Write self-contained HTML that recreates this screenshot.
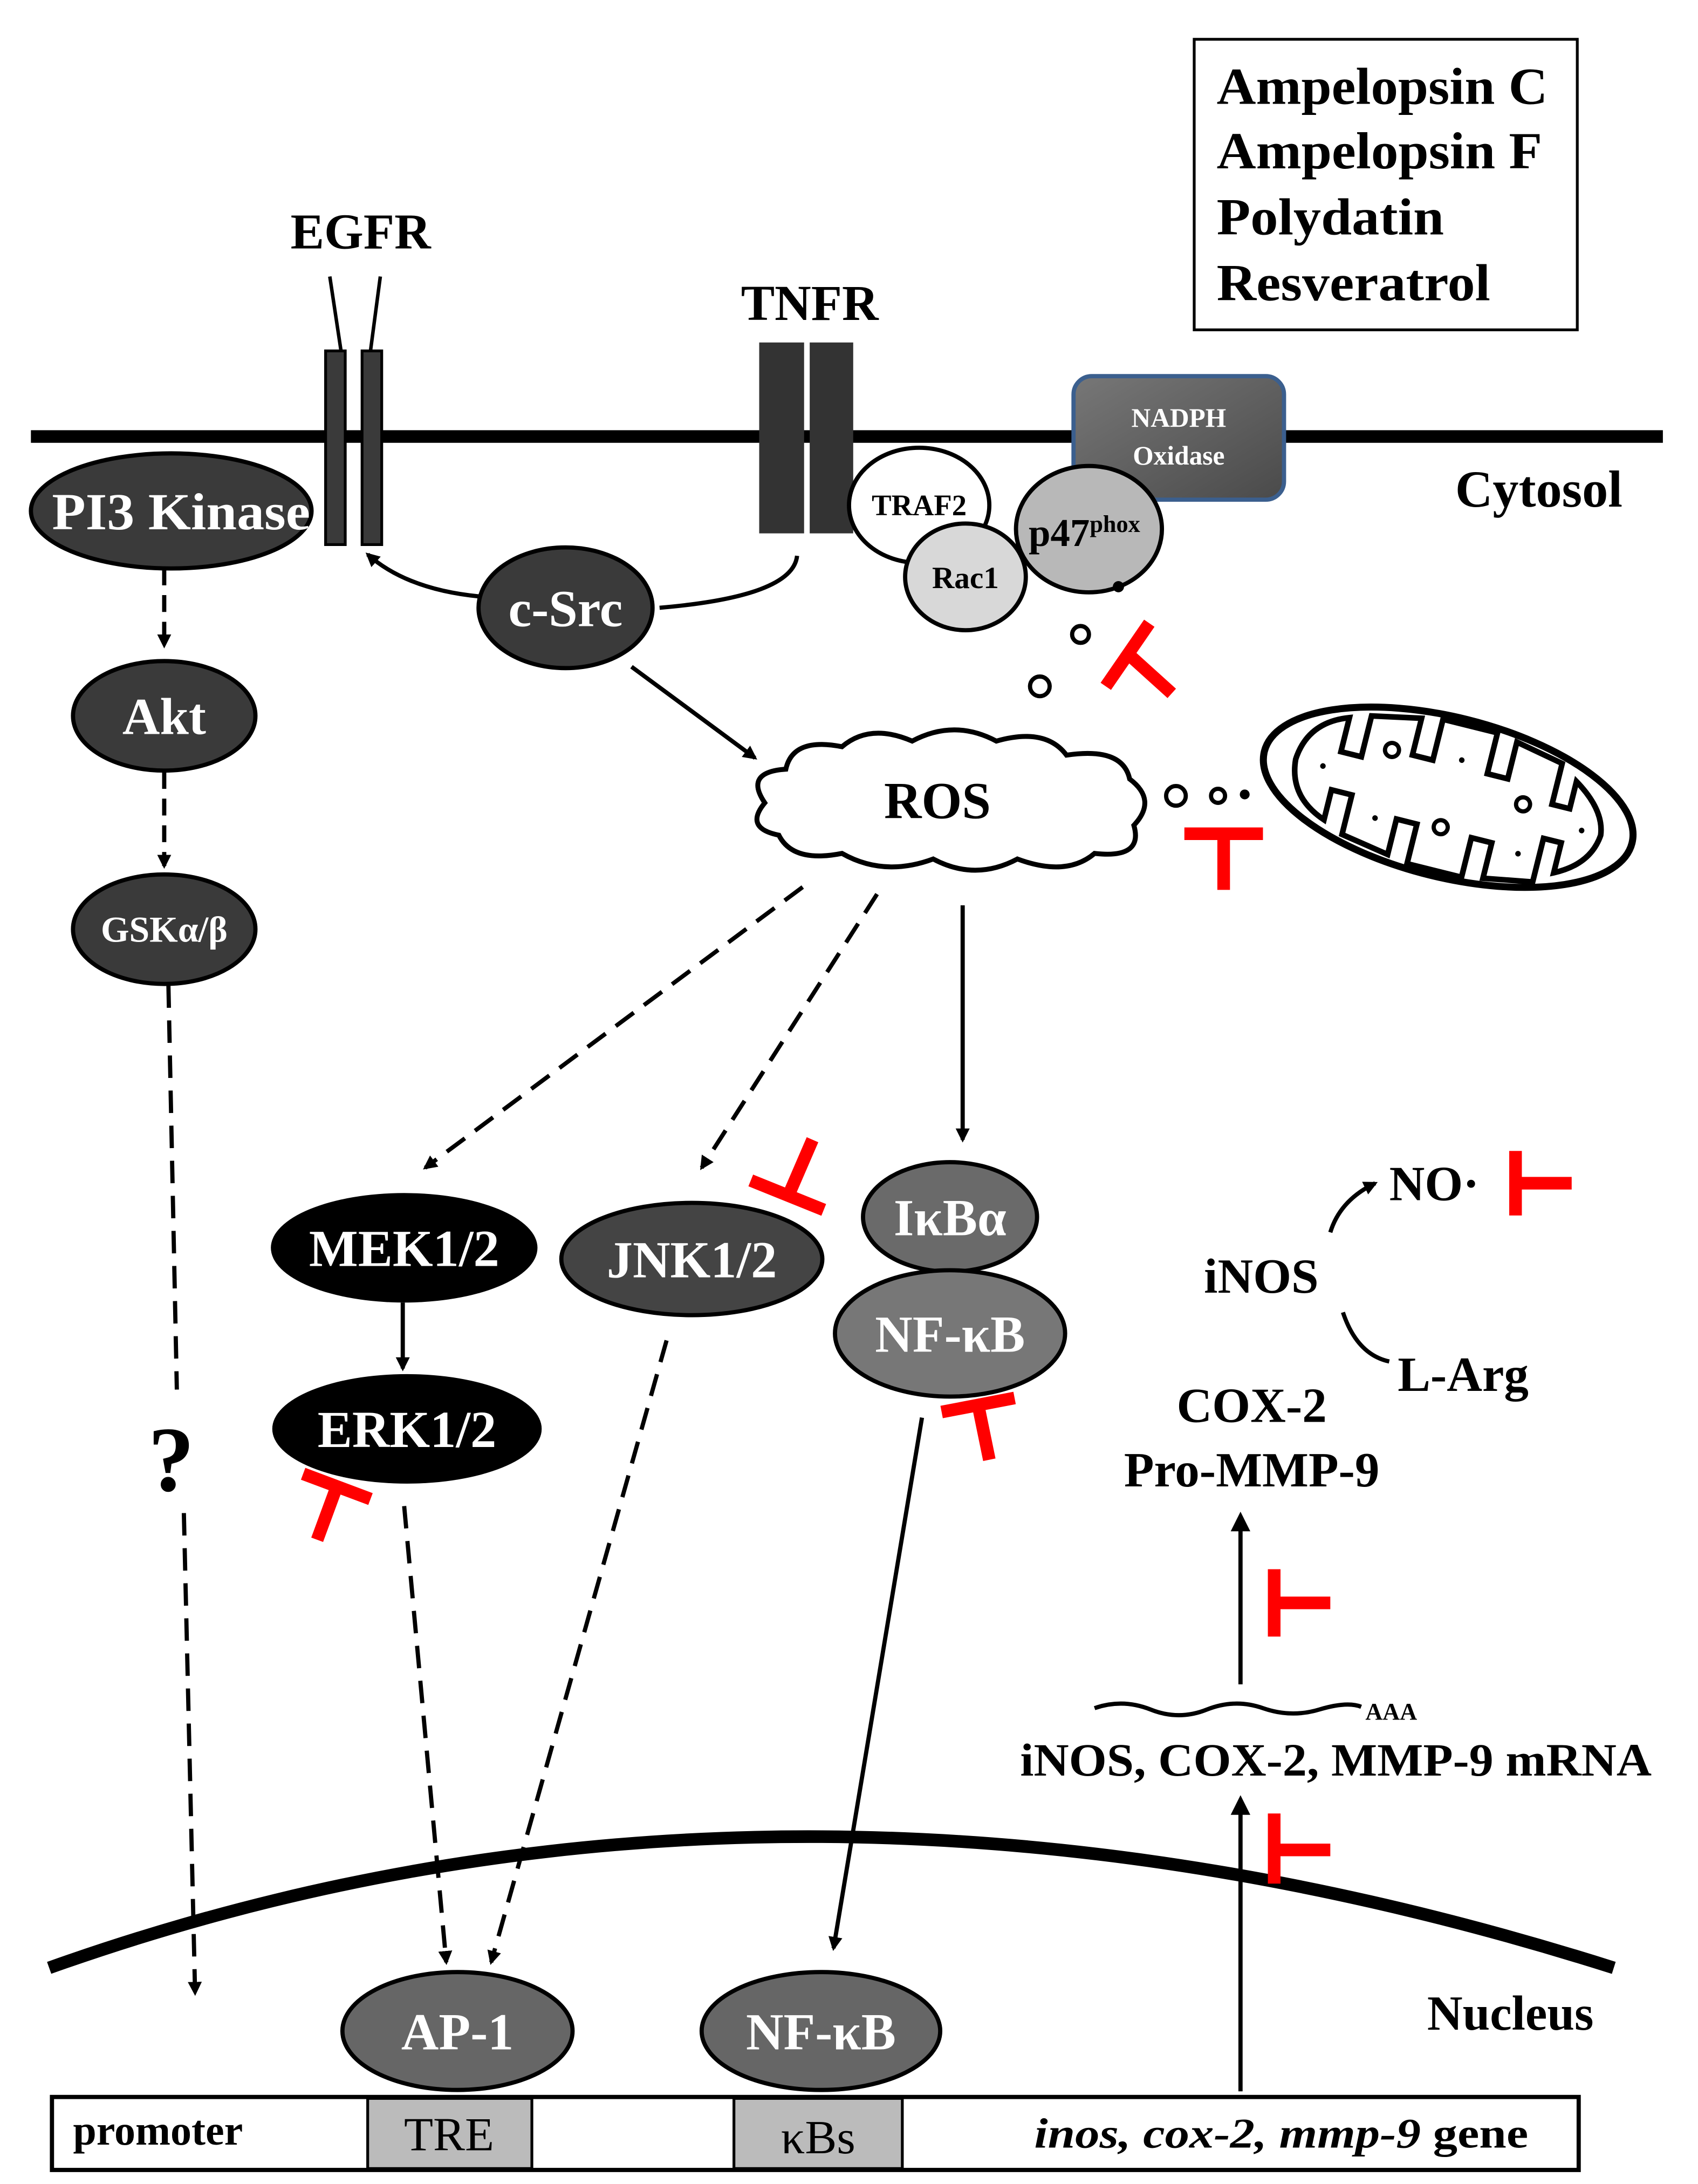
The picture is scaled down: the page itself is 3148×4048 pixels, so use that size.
<!DOCTYPE html>
<html><head><meta charset="utf-8"><style>html,body{margin:0;padding:0;background:#fff}svg{display:block}text{font-family:"Liberation Serif",serif;font-weight:bold}</style></head><body>
<svg width="3148" height="4048" viewBox="0 0 1210 1556" xmlns="http://www.w3.org/2000/svg">
<defs>
<marker id="ah" markerWidth="10" markerHeight="10" refX="8" refY="5" orient="auto" markerUnits="userSpaceOnUse" viewBox="0 0 10 10"><path d="M0,0 L10,5 L0,10 Z" fill="#000"/></marker>
<marker id="ah2" markerWidth="14" markerHeight="14" refX="10" refY="7" orient="auto" markerUnits="userSpaceOnUse" viewBox="0 0 14 14"><path d="M0,0 L14,7 L0,14 Z" fill="#000"/></marker>
<linearGradient id="ng" x1="0" y1="0" x2="1" y2="1"><stop offset="0" stop-color="#777"/><stop offset="1" stop-color="#4a4a4a"/></linearGradient>
</defs>
<rect width="1210" height="1556" fill="#fff"/>
<rect x="851" y="28" width="273" height="207" fill="none" stroke="#000" stroke-width="2"/>
<g font-size="37" fill="#000">
<text x="867" y="74" textLength="236" lengthAdjust="spacingAndGlyphs">Ampelopsin C</text>
<text x="867" y="120" textLength="232" lengthAdjust="spacingAndGlyphs">Ampelopsin F</text>
<text x="867" y="167" textLength="162" lengthAdjust="spacingAndGlyphs">Polydatin</text>
<text x="867" y="214" textLength="195" lengthAdjust="spacingAndGlyphs">Resveratrol</text>
</g>
<line x1="22" y1="311" x2="1185" y2="311" stroke="#000" stroke-width="9"/>
<text x="257" y="177" font-size="36" text-anchor="middle">EGFR</text>
<line x1="235" y1="197" x2="243" y2="250" stroke="#000" stroke-width="2.5"/>
<line x1="271" y1="197" x2="264" y2="250" stroke="#000" stroke-width="2.5"/>
<rect x="232" y="250" width="14" height="138" fill="#3a3a3a" stroke="#000" stroke-width="2"/>
<rect x="258" y="250" width="14" height="138" fill="#3a3a3a" stroke="#000" stroke-width="2"/>
<text x="577" y="228" font-size="36" text-anchor="middle">TNFR</text>
<rect x="541" y="244" width="32" height="136" fill="#333"/>
<rect x="577" y="244" width="31" height="136" fill="#333"/>
<rect x="765" y="268" width="150" height="88" rx="13" fill="url(#ng)" stroke="#3b5f8e" stroke-width="3"/>
<text x="840" y="304" font-size="19" fill="#fff" text-anchor="middle">NADPH</text>
<text x="840" y="331" font-size="19" fill="#fff" text-anchor="middle">Oxidase</text>
<text x="1037" y="361" font-size="37">Cytosol</text>
<ellipse cx="122" cy="364" rx="100" ry="41" fill="#3a3a3a" stroke="#000" stroke-width="3"/>
<text x="129" y="377" font-size="37" fill="#fff" text-anchor="middle" textLength="184" lengthAdjust="spacingAndGlyphs">PI3 Kinase</text>
<ellipse cx="655" cy="360" rx="50" ry="41" fill="#fff" stroke="#000" stroke-width="3"/>
<text x="655" y="367" font-size="21" text-anchor="middle">TRAF2</text>
<ellipse cx="776" cy="377" rx="52" ry="45" fill="#b8b8b8" stroke="#000" stroke-width="3"/>
<text x="733" y="389" font-size="28">p47<tspan font-size="17" dy="-10">phox</tspan></text>
<ellipse cx="688" cy="411" rx="43" ry="38" fill="#d8d8d8" stroke="#000" stroke-width="3"/>
<text x="688" y="419" font-size="22" text-anchor="middle">Rac1</text>
<circle cx="797" cy="418" r="4" fill="#000"/>
<circle cx="770" cy="452" r="6" fill="none" stroke="#000" stroke-width="3"/>
<circle cx="741" cy="489" r="7" fill="none" stroke="#000" stroke-width="3"/>
<path d="M568,396 Q565,425 470,433" fill="none" stroke="#000" stroke-width="3"/>
<path d="M342,425 Q290,420 262,395" fill="none" stroke="#000" stroke-width="3" marker-end="url(#ah)"/>
<ellipse cx="403" cy="433" rx="62" ry="43" fill="#3a3a3a" stroke="#000" stroke-width="3"/>
<text x="403" y="446" font-size="37" fill="#fff" text-anchor="middle">c-Src</text>
<line x1="450" y1="475" x2="538" y2="540" stroke="#000" stroke-width="3" marker-end="url(#ah)"/>
<line x1="117" y1="405" x2="117" y2="460" stroke="#000" stroke-width="3" stroke-dasharray="12,7" marker-end="url(#ah)"/>
<ellipse cx="117" cy="510" rx="65" ry="39" fill="#3a3a3a" stroke="#000" stroke-width="3"/>
<text x="117" y="523" font-size="37" fill="#fff" text-anchor="middle">Akt</text>
<line x1="117" y1="550" x2="117" y2="617" stroke="#000" stroke-width="3" stroke-dasharray="12,7" marker-end="url(#ah)"/>
<ellipse cx="117" cy="662" rx="65" ry="39" fill="#3a3a3a" stroke="#000" stroke-width="3"/>
<text x="117" y="671" font-size="26" fill="#fff" text-anchor="middle">GSKα/β</text>
<line x1="120" y1="702" x2="126" y2="990" stroke="#000" stroke-width="3" stroke-dasharray="16,9"/>
<text x="122" y="1062" font-size="66" text-anchor="middle">?</text>
<line x1="131" y1="1078" x2="139" y2="1420" stroke="#000" stroke-width="3" stroke-dasharray="16,9" marker-end="url(#ah)"/>
<path d="M555,595 Q530,590 545,572 Q530,550 560,548 Q565,525 600,532 Q620,515 650,528 Q680,512 710,528 Q745,518 760,538 Q800,532 805,555 Q825,570 808,588 Q815,612 780,608 Q760,625 725,612 Q695,628 665,612 Q630,625 600,608 Q565,615 555,595 Z" fill="#fff" stroke="#000" stroke-width="3.5"/>
<text x="668" y="583" font-size="37" text-anchor="middle">ROS</text>
<circle cx="838" cy="567" r="7" fill="none" stroke="#000" stroke-width="3"/>
<circle cx="868" cy="567" r="5" fill="none" stroke="#000" stroke-width="3"/>
<circle cx="887" cy="566" r="3.5" fill="#000"/>
<g transform="rotate(14 1032 568)">
<ellipse cx="1032" cy="568" rx="135" ry="57" fill="#fff" stroke="#000" stroke-width="5"/>
<path d="M920,568 Q922,540 950,530 L950,555 L965,555 L965,525 L1000,518 L1000,545 L1015,545 L1015,515 L1055,515 L1055,545 L1070,545 L1070,518 L1105,525 L1105,555 L1118,555 L1118,535 Q1142,550 1144,568 Q1142,590 1118,602 L1118,580 L1105,580 L1105,612 L1070,618 L1070,592 L1055,592 L1055,621 L1015,621 L1015,592 L1000,592 L1000,618 L965,612 L965,583 L950,583 L950,605 Q922,595 920,568 Z" fill="none" stroke="#000" stroke-width="4"/>
<circle cx="985" cy="545" r="5" fill="none" stroke="#000" stroke-width="3"/>
<circle cx="1032" cy="590" r="5" fill="none" stroke="#000" stroke-width="3"/>
<circle cx="1085" cy="560" r="5" fill="none" stroke="#000" stroke-width="3"/>
<circle cx="940" cy="568" r="2" fill="#000"/><circle cx="1035" cy="540" r="2" fill="#000"/><circle cx="1090" cy="595" r="2" fill="#000"/><circle cx="985" cy="595" r="2" fill="#000"/><circle cx="1130" cy="568" r="2" fill="#000"/>
</g>
<line x1="572" y1="632" x2="303" y2="832" stroke="#000" stroke-width="3" stroke-dasharray="16,9" marker-end="url(#ah)"/>
<line x1="625" y1="637" x2="500" y2="832" stroke="#000" stroke-width="3" stroke-dasharray="16,9" marker-end="url(#ah)"/>
<line x1="686" y1="645" x2="686" y2="812" stroke="#000" stroke-width="3" marker-end="url(#ah)"/>
<ellipse cx="288" cy="889" rx="95" ry="39" fill="#000"/>
<text x="288" y="902" font-size="37" fill="#fff" text-anchor="middle">MEK1/2</text>
<line x1="287" y1="928" x2="287" y2="975" stroke="#000" stroke-width="3" marker-end="url(#ah)"/>
<ellipse cx="290" cy="1018" rx="96" ry="39" fill="#000"/>
<text x="290" y="1031" font-size="37" fill="#fff" text-anchor="middle">ERK1/2</text>
<ellipse cx="493" cy="897" rx="93" ry="40" fill="#444" stroke="#000" stroke-width="3"/>
<text x="493" y="910" font-size="37" fill="#fff" text-anchor="middle">JNK1/2</text>
<ellipse cx="677" cy="867" rx="62" ry="39" fill="#6a6a6a" stroke="#000" stroke-width="3"/>
<text x="677" y="880" font-size="37" fill="#fff" text-anchor="middle">IκBα</text>
<ellipse cx="677" cy="950" rx="82" ry="45" fill="#777" stroke="#000" stroke-width="3"/>
<text x="677" y="963" font-size="37" fill="#fff" text-anchor="middle">NF-κB</text>
<line x1="288" y1="1073" x2="318" y2="1398" stroke="#000" stroke-width="3" stroke-dasharray="16,9" marker-end="url(#ah)"/>
<line x1="475" y1="955" x2="350" y2="1398" stroke="#000" stroke-width="3" stroke-dasharray="16,9" marker-end="url(#ah)"/>
<line x1="657" y1="1010" x2="594" y2="1388" stroke="#000" stroke-width="3" marker-end="url(#ah)"/>
<path d="M948,878 Q955,855 980,843" fill="none" stroke="#000" stroke-width="3" marker-end="url(#ah)"/>
<text x="990" y="855" font-size="35">NO·</text>
<text x="858" y="921" font-size="35">iNOS</text>
<path d="M957,935 Q967,965 990,970" fill="none" stroke="#000" stroke-width="3"/>
<text x="996" y="991" font-size="35">L-Arg</text>
<text x="892" y="1013" font-size="35" text-anchor="middle">COX-2</text>
<text x="892" y="1059" font-size="35" text-anchor="middle">Pro-MMP-9</text>
<line x1="884" y1="1200" x2="884" y2="1081" stroke="#000" stroke-width="3" marker-end="url(#ah2)"/>
<path d="M780,1217 Q800,1210 820,1218 T860,1218 T900,1217 T940,1218 T970,1216" fill="none" stroke="#000" stroke-width="3"/>
<text x="973" y="1225" font-size="17">AAA</text>
<text x="952" y="1265" font-size="33" text-anchor="middle" textLength="450" lengthAdjust="spacingAndGlyphs">iNOS, COX-2, MMP-9 mRNA</text>
<line x1="884" y1="1490" x2="884" y2="1283" stroke="#000" stroke-width="3" marker-end="url(#ah2)"/>
<path d="M35,1402 Q560,1215 1150,1402" fill="none" stroke="#000" stroke-width="9"/>
<text x="1017" y="1446" font-size="35">Nucleus</text>
<ellipse cx="326" cy="1447" rx="82" ry="42" fill="#666" stroke="#000" stroke-width="3"/>
<text x="326" y="1460" font-size="37" fill="#fff" text-anchor="middle">AP-1</text>
<ellipse cx="585" cy="1447" rx="85" ry="42" fill="#666" stroke="#000" stroke-width="3"/>
<text x="585" y="1460" font-size="37" fill="#fff" text-anchor="middle">NF-κB</text>
<rect x="37" y="1494" width="1088" height="52" fill="#fff" stroke="#000" stroke-width="3"/>
<text x="52" y="1528" font-size="30">promoter</text>
<rect x="262" y="1495" width="117" height="50" fill="#bbb" stroke="#000" stroke-width="2"/>
<text x="320" y="1532" font-size="34" style="font-weight:normal" text-anchor="middle">TRE</text>
<rect x="523" y="1495" width="120" height="50" fill="#bbb" stroke="#000" stroke-width="2"/>
<text x="583" y="1534" font-size="34" style="font-weight:normal" text-anchor="middle">κBs</text>
<text x="737" y="1530" font-size="30" textLength="352" lengthAdjust="spacingAndGlyphs"><tspan font-style="italic">inos, cox-2, mmp-9</tspan> gene</text>
<g stroke="#f00" stroke-width="9" fill="none">
<line x1="819" y1="444" x2="788" y2="489"/><line x1="804" y1="466" x2="835" y2="494"/>
<line x1="844" y1="594" x2="900" y2="594"/><line x1="872" y1="594" x2="872" y2="634"/>
<line x1="535" y1="841" x2="587" y2="862"/><line x1="579" y1="812" x2="563" y2="849"/>
<line x1="671" y1="1006" x2="723" y2="996"/><line x1="697" y1="1001" x2="705" y2="1040"/>
<line x1="216" y1="1050" x2="264" y2="1068"/><line x1="240" y1="1059" x2="226" y2="1097"/>
<line x1="1080" y1="820" x2="1080" y2="866"/><line x1="1080" y1="843" x2="1120" y2="843"/>
<line x1="908" y1="1118" x2="908" y2="1166"/><line x1="908" y1="1142" x2="948" y2="1142"/>
<line x1="908" y1="1292" x2="908" y2="1342"/><line x1="908" y1="1318" x2="948" y2="1318"/>
</g>
</svg>
</body></html>
